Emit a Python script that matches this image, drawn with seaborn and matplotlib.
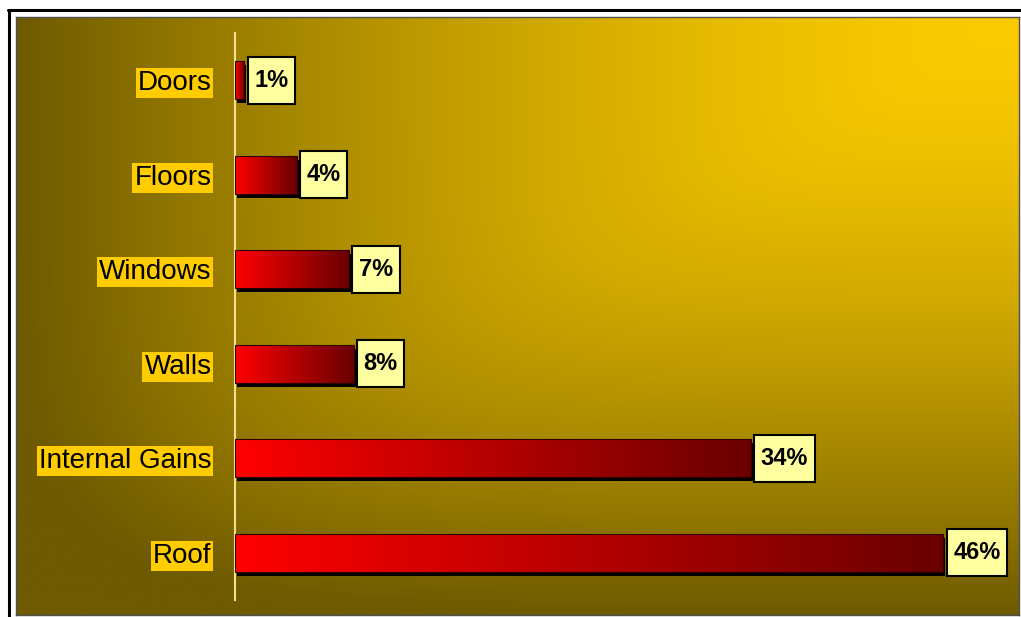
import numpy as np
import pandas as pd
import seaborn as sns
import matplotlib.pyplot as plt
import matplotlib.transforms as mtransforms
from matplotlib.colors import LinearSegmentedColormap
from matplotlib.patches import Rectangle
from matplotlib.lines import Line2D
from matplotlib.path import Path

# data
categories = ['Doors', 'Floors', 'Windows', 'Walls', 'Internal Gains', 'Roof']
shares = [0.6, 4.0, 7.4, 7.7, 33.5, 46.0]
share_labels = ['1%', '4%', '7%', '8%', '34%', '46%']

df = pd.DataFrame({'category': categories, 'share': shares})

sns.set_style('white')
plt.rcParams['font.family'] = ['Liberation Sans', 'DejaVu Sans']
plt.rcParams['text.color'] = 'black'
plt.rcParams['ytick.color'] = 'black'
plt.rcParams['ytick.labelcolor'] = 'black'


def label_box(x0, y0, width, height, mutation_size):
    # box around value labels: a bit more padding above/below than at the sides
    px = 0.28 * mutation_size
    py = 0.50 * mutation_size
    x0, y0 = x0 - px, y0 - py
    x1, y1 = x0 + width + 2 * px, y0 + height + 2 * py
    return Path([(x0, y0), (x1, y0), (x1, y1), (x0, y1), (x0, y0)], closed=True)


W, H = 1021, 617
fig = plt.figure(figsize=(W / 100, H / 100), dpi=100, facecolor='white')

# gradient background, bright in the top right corner
bg = fig.add_axes([16 / W, 1 - 615 / H, 1003 / W, 598 / H], zorder=0)
ny, nx = 300, 500
yy, xx = np.mgrid[0:1:ny * 1j, 0:1:nx * 1j]
d = ((1 - xx) ** 6 + yy ** 6) ** (1 / 6)
t = np.clip(d, 0, 1) ** 1.6
bright = np.array([251, 203, 0]) / 255
dark = np.array([110, 90, 0]) / 255
img = bright + (dark - bright) * t[..., None]
bg.imshow(img, extent=(0, 1, 0, 1), aspect='auto', origin='upper')
bg.set_xticks([])
bg.set_yticks([])
for s in bg.spines.values():
    s.set_color('#505050')
    s.set_linewidth(1)

# main chart
ax = fig.add_axes([235 / W, 1 - 600 / H, 770 / W, 567 / H], zorder=1)
ax.patch.set_alpha(0)

sns.barplot(data=df, x='share', y='category', orient='h', width=0.4,
            color='red', edgecolor='#300000', linewidth=0.8, ax=ax)

bar_cmap = LinearSegmentedColormap.from_list('bar', ['#ff0000', '#6a0000'])
grad = np.linspace(0, 1, 256).reshape(1, -1)
shadow_tr = ax.transData + mtransforms.ScaledTranslation(2 / 100, -4 / 100, fig.dpi_scale_trans)

bars = list(ax.patches)
for p, lab in zip(bars, share_labels):
    x0, y0, w, h = p.get_x(), p.get_y(), p.get_width(), p.get_height()
    # shadow
    ax.add_patch(Rectangle((x0, y0), w, h, transform=shadow_tr,
                           fc='black', ec='none', zorder=1))
    # gradient fill
    ax.imshow(grad, extent=(x0, x0 + w, y0 + h, y0), cmap=bar_cmap,
              aspect='auto', zorder=2, clip_path=p, interpolation='bilinear')
    p.set_facecolor('none')
    p.set_zorder(3)
    # value label box
    ax.annotate(lab, xy=(x0 + w, y0 + h / 2), xytext=(7.2, 0),
                textcoords='offset points', ha='left', va='center',
                fontsize=17, fontweight='bold', color='black',
                bbox=dict(boxstyle=label_box, fc='#ffffa0', ec='black', lw=1.5),
                zorder=4)

ax.set_xlim(0, 50)
ax.set_ylim(5.5, -0.5)
ax.set_xlabel('')
ax.set_ylabel('')
ax.set_xticks([])
ax.tick_params(axis='y', length=0, pad=17, labelsize=20, labelcolor='black')
for lbl in ax.get_yticklabels():
    lbl.set_bbox(dict(fc='#ffcc00', ec='none', pad=1.5))

for side in ['top', 'right', 'bottom']:
    ax.spines[side].set_visible(False)
ax.spines['left'].set_color('#f0e090')
ax.spines['left'].set_linewidth(1.5)

# outer frame lines
fig.add_artist(Line2D([8 / W, 1021 / W], [1 - 10 / H, 1 - 10 / H],
                      transform=fig.transFigure, color='black', lw=2.2))
fig.add_artist(Line2D([9 / W, 9 / W], [0, 1 - 10 / H],
                      transform=fig.transFigure, color='black', lw=2.2))

fig.savefig('out.png', dpi=100, facecolor='white')
